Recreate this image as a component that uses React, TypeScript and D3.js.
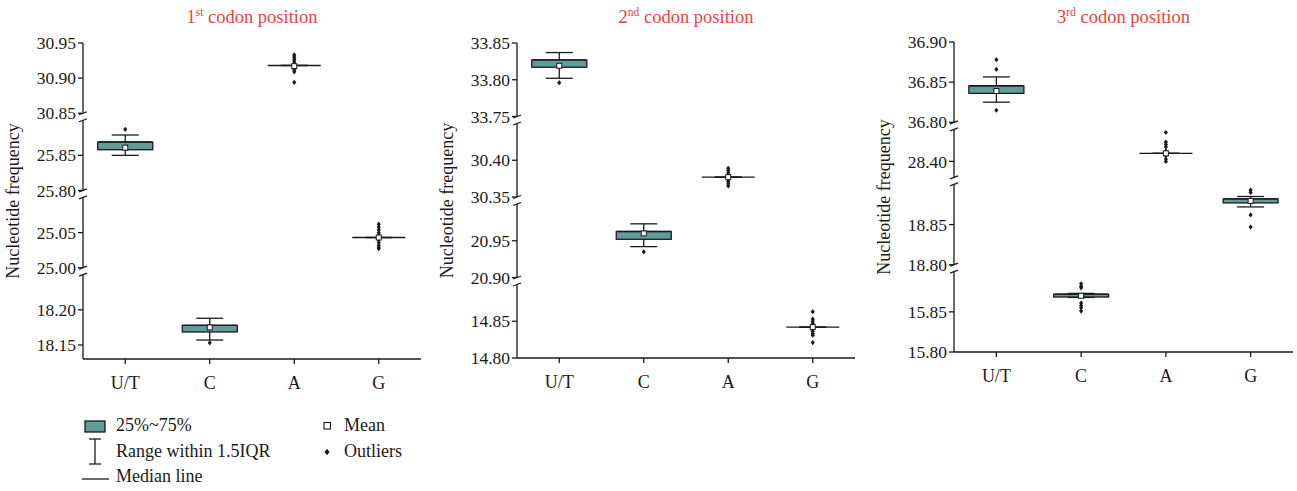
import React from "react";
import * as d3 from "d3";

const width = 1297;
const height = 491;
const fontFamily = "'Liberation Serif', 'Times New Roman', serif";
const boxFill = "#629c98";
const ink = "#1a1a1a";
const titleColor = "#e8453a";

const categories = ["U/T", "C", "A", "G"];

// rows: [whiskerLow, q1, median, q3, whiskerHigh, mean] per category
const pos1Stats = [
  [25.85, 25.858, 25.869, 25.869, 25.879, 25.861],
  [18.157, 18.1685, 18.178, 18.178, 18.188, 18.175],
  [30.918, 30.918, 30.918, 30.918, 30.918, 30.917],
  [25.043, 25.043, 25.043, 25.043, 25.043, 25.043],
];
const pos1Outliers = [
  [25.887],
  [18.153],
  [30.933, 30.93, 30.927, 30.924, 30.921, 30.915, 30.912, 30.909, 30.894],
  [25.062, 25.058, 25.054, 25.05, 25.046, 25.04, 25.036, 25.032, 25.029, 25.027],
];
const pos1Segments = [[30.85, 30.95], [25.8, 25.9], [25.0, 25.1], [18.13, 18.25]];
const pos1Ticks = [[30.85, 30.9, 30.95], [25.8, 25.85], [25.0, 25.05], [18.15, 18.2]];

const pos2Stats = [
  [33.802, 33.817, 33.827, 33.827, 33.837, 33.819],
  [20.942, 20.952, 20.9626, 20.9626, 20.973, 20.96],
  [30.377, 30.377, 30.377, 30.377, 30.377, 30.377],
  [14.842, 14.842, 14.842, 14.842, 14.842, 14.842],
];
const pos2Outliers = [
  [33.796],
  [20.935],
  [30.389, 30.386, 30.383, 30.38, 30.374, 30.371, 30.368, 30.365],
  [14.863, 14.853, 14.85, 14.847, 14.844, 14.839, 14.836, 14.833, 14.831, 14.821],
];
const pos2Segments = [[33.75, 33.85], [30.35, 30.45], [20.9, 21.0], [14.8, 14.9]];
const pos2Ticks = [[33.75, 33.8, 33.85], [30.35, 30.4], [20.9, 20.95], [14.8, 14.85]];

const pos3Stats = [
  [36.825, 36.836, 36.8455, 36.8455, 36.8565, 36.839],
  [15.868, 15.8685, 15.872, 15.872, 15.873, 15.87],
  [28.41, 28.41, 28.41, 28.41, 28.41, 28.41],
  [18.872, 18.877, 18.882, 18.882, 18.885, 18.8795],
];
const pos3Outliers = [
  [36.878, 36.866, 36.815],
  [15.885, 15.882, 15.88, 15.861, 15.858, 15.855, 15.851],
  [28.436, 28.424, 28.421, 28.418, 28.413, 28.407, 28.403, 28.4],
  [18.893, 18.89, 18.862, 18.847],
];
const pos3Segments = [[36.8, 36.9], [28.38, 28.44], [18.8, 18.9], [15.8, 15.9]];
const pos3Ticks = [[36.8, 36.85, 36.9], [28.4], [18.8, 18.85], [15.8, 15.85]];

const panels = [
  { ord: "1", sup: "st", left: 83, right: 421, top: 43, bottom: 359, stats: pos1Stats, outliers: pos1Outliers, segments: pos1Segments, ticks: pos1Ticks },
  { ord: "2", sup: "nd", left: 517, right: 855, top: 43, bottom: 358, stats: pos2Stats, outliers: pos2Outliers, segments: pos2Segments, ticks: pos2Ticks },
  { ord: "3", sup: "rd", left: 954, right: 1293, top: 42, bottom: 352, stats: pos3Stats, outliers: pos3Outliers, segments: pos3Segments, ticks: pos3Ticks },
];

const gap = 7;
const boxWidth = 55;
const capWidth = 27;

function buildScales(segments: number[][], top: number, bottom: number) {
  const total = d3.sum(segments, (s) => s[1] - s[0]);
  const k = (bottom - top - gap * (segments.length - 1)) / total;
  let y = top;
  return segments.map((s) => {
    const h = (s[1] - s[0]) * k;
    const sc = d3.scaleLinear().domain(s).range([y + h, y]);
    y += h + gap;
    return sc;
  });
}

function Diamond({ x, y, r = 2.6 }: { x: number; y: number; r?: number }) {
  return <path d={`M${x},${y - r}L${x + r * 0.8},${y}L${x},${y + r}L${x - r * 0.8},${y}Z`} fill={ink} />;
}

function Panel({ p }: { p: (typeof panels)[number] }) {
  const scales = buildScales(p.segments, p.top, p.bottom);
  const yOf = (v: number) => {
    const sc = scales.find((s) => v >= s.domain()[0] - 1e-9 && v <= s.domain()[1] + 1e-9) || scales[0];
    return sc(v);
  };
  const x = d3.scalePoint<string>().domain(categories).range([p.left, p.right]).padding(0.5);
  const cx = (p.left + p.right) / 2;
  const cy = (p.top + p.bottom) / 2;

  return (
    <g>
      <text x={cx} y={23} textAnchor="middle" fill={titleColor} fontSize={18.5}>
        {p.ord}
        <tspan fontSize={11.5} dy={-7}>{p.sup}</tspan>
        <tspan dy={7}> codon position</tspan>
      </text>
      <text transform={`translate(${p.left - 64},${cy}) rotate(-90)`} textAnchor="middle" fontSize={18} fill={ink}>
        Nucleotide frequency
      </text>

      {/* broken y axis */}
      {scales.map((sc, i) => {
        const [y0, y1] = sc.range();
        return (
          <g key={i}>
            <line x1={p.left} x2={p.left} y1={y0} y2={y1} stroke={ink} strokeWidth={1.3} />
            {i > 0 && <line x1={p.left - 4} x2={p.left + 4} y1={y1 + 1.5} y2={y1 - 1.5} stroke={ink} strokeWidth={1.3} />}
            {i < scales.length - 1 && <line x1={p.left - 4} x2={p.left + 4} y1={y0 + 1.5} y2={y0 - 1.5} stroke={ink} strokeWidth={1.3} />}
            {p.ticks[i].map((t) => (
              <g key={t}>
                <line x1={p.left - 5} x2={p.left} y1={sc(t)} y2={sc(t)} stroke={ink} strokeWidth={1.3} />
                <text x={p.left - 7} y={sc(t)} dy="0.35em" textAnchor="end" fontSize={17.5} fill={ink}>
                  {d3.format(".2f")(t)}
                </text>
              </g>
            ))}
          </g>
        );
      })}

      {/* x axis */}
      <line x1={p.left} x2={p.right} y1={p.bottom} y2={p.bottom} stroke={ink} strokeWidth={1.3} />
      {categories.map((c) => (
        <g key={c}>
          <line x1={x(c)} x2={x(c)} y1={p.bottom} y2={p.bottom + 5} stroke={ink} strokeWidth={1.3} />
          <text x={x(c)} y={p.bottom + 30} textAnchor="middle" fontSize={18} fill={ink}>
            {c}
          </text>
        </g>
      ))}

      {/* boxes */}
      {p.stats.map((s, i) => {
        const c = categories[i];
        const xc = x(c) as number;
        const [lo, q1, med, q3, hi, mean] = s;
        return (
          <g key={c}>
            <line x1={xc} x2={xc} y1={yOf(hi)} y2={yOf(q3)} stroke={ink} strokeWidth={1.3} />
            <line x1={xc} x2={xc} y1={yOf(q1)} y2={yOf(lo)} stroke={ink} strokeWidth={1.3} />
            <line x1={xc - capWidth / 2} x2={xc + capWidth / 2} y1={yOf(hi)} y2={yOf(hi)} stroke={ink} strokeWidth={1.3} />
            <line x1={xc - capWidth / 2} x2={xc + capWidth / 2} y1={yOf(lo)} y2={yOf(lo)} stroke={ink} strokeWidth={1.3} />
            {q3 > q1 && (
              <rect x={xc - boxWidth / 2} y={yOf(q3)} width={boxWidth} height={yOf(q1) - yOf(q3)} fill={boxFill} stroke={ink} strokeWidth={1.3} />
            )}
            <line x1={xc - boxWidth / 2 + 1} x2={xc + boxWidth / 2 - 1} y1={yOf(med)} y2={yOf(med)} stroke={ink} strokeWidth={1.3} />
            {p.outliers[i].map((o, j) => (
              <Diamond key={j} x={xc} y={yOf(o)} />
            ))}
            <rect x={xc - 2.5} y={yOf(mean) - 2.5} width={5} height={5} fill="#fff" stroke={ink} strokeWidth={1} />
          </g>
        );
      })}
    </g>
  );
}

const legendItems = ["25%~75%", "Range within 1.5IQR", "Median line", "Mean", "Outliers"];

const App = () => {
  return (
    <svg width={width} height={height} style={{ position: "absolute", left: 0, top: 0, background: "#fff" }} fontFamily={fontFamily}>
      {panels.map((p) => (
        <Panel key={p.ord} p={p} />
      ))}
      <g fontSize={18} fill={ink}>
        <rect x={85} y={421} width={20} height={11} fill={boxFill} stroke={ink} strokeWidth={1.3} />
        <text x={116} y={431}>{legendItems[0]}</text>
        <line x1={95} x2={95} y1={439} y2={464} stroke={ink} strokeWidth={1.3} />
        <line x1={89} x2={101} y1={439} y2={439} stroke={ink} strokeWidth={1.3} />
        <line x1={89} x2={101} y1={464} y2={464} stroke={ink} strokeWidth={1.3} />
        <text x={116} y={457}>{legendItems[1]}</text>
        <line x1={82} x2={109} y1={479} y2={479} stroke={ink} strokeWidth={1.3} />
        <text x={116} y={482}>{legendItems[2]}</text>
        <rect x={324} y={422.5} width={6.5} height={6.5} fill="#fff" stroke={ink} strokeWidth={1.1} />
        <text x={344} y={431}>{legendItems[3]}</text>
        <Diamond x={327} y={452} r={3.2} />
        <text x={344} y={457}>{legendItems[4]}</text>
      </g>
    </svg>
  );
};

export default App;
